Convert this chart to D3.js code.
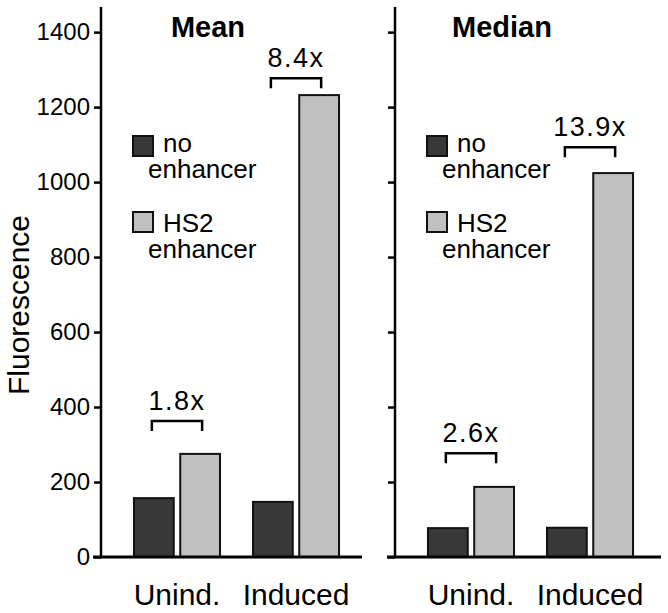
<!DOCTYPE html>
<html>
<head>
<meta charset="utf-8">
<script src="https://cdn.jsdelivr.net/npm/d3@7"></script>
<style>
  html, body { margin: 0; padding: 0; background: #fff; }
  svg { display: block; font-family: "Liberation Sans", Arial, sans-serif; }
</style>
</head>
<body>
<svg id="chart" width="668" height="613"></svg>
<script>
// ---- data ----
const categories = ["Unind.", "Induced"];
const seriesNames = ["no enhancer", "HS2 enhancer"];
const panelTitles = ["Mean", "Median"];
const meanNoEnhancer = [157, 147];
const meanHS2Enhancer = [275, 1232];
const medianNoEnhancer = [77, 78];
const medianHS2Enhancer = [187, 1024];
const meanFoldLabels = ["1.8x", "8.4x"];
const medianFoldLabels = ["2.6x", "13.9x"];
const meanBracketLevels = [363, 1277];
const medianBracketLevels = [277, 1093];
const yTickValues = [0, 200, 400, 600, 800, 1000, 1200, 1400];
const yAxisTitle = "Fluorescence";

// ---- layout ----
const svg = d3.select("#chart");
const colors = d3.scaleOrdinal().domain(seriesNames).range(["#383838", "#c0c0c0"]);
const y = d3.scaleLinear().domain([0, 1467]).range([557, 7]);

const x0 = d3.scaleBand().domain(categories).range([0, 271]).paddingInner(0.277).paddingOuter(0.277);
const x1 = d3.scaleBand().domain(seriesNames).range([0, x0.bandwidth()]).paddingInner(0.14);

const panels = [
  {title: panelTitles[0], left: 101, width: 261, vals: [meanNoEnhancer, meanHS2Enhancer], folds: meanFoldLabels, levels: meanBracketLevels, labels: true},
  {title: panelTitles[1], left: 395, width: 266, vals: [medianNoEnhancer, medianHS2Enhancer], folds: medianFoldLabels, levels: medianBracketLevels, labels: false}
];

panels.forEach(p => {
  const g = svg.append("g").attr("transform", `translate(${p.left},0)`);

  // y axis
  const ax = d3.axisLeft(y).tickValues(yTickValues).tickSize(7).tickPadding(4)
    .tickFormat(p.labels ? d3.format("d") : () => "");
  const ag = g.append("g").call(ax);
  ag.select(".domain").remove();
  ag.selectAll(".tick line").attr("stroke", "#000").attr("stroke-width", 2.5);
  ag.selectAll(".tick text").attr("font-size", 24).attr("fill", "#000")
    .attr("font-family", "'Liberation Sans', Arial, sans-serif");
  g.append("line").attr("x1", 0).attr("x2", 0).attr("y1", y(0)).attr("y2", y.range()[1])
    .attr("stroke", "#000").attr("stroke-width", 2.5);

  // bars
  categories.forEach((c, ci) => {
    seriesNames.forEach((s, si) => {
      const v = p.vals[si][ci];
      g.append("rect")
        .attr("x", x0(c) + x1(s))
        .attr("y", y(v))
        .attr("width", x1.bandwidth())
        .attr("height", y(0) - y(v))
        .attr("fill", colors(s))
        .attr("stroke", "#111")
        .attr("stroke-width", 2);
    });

    // bracket + fold label
    const cx1 = x0(c) + x1(seriesNames[0]) + x1.bandwidth() / 2 - 2;
    const cx2 = x0(c) + x1(seriesNames[1]) + x1.bandwidth() / 2 + 2;
    const by = y(p.levels[ci]);
    g.append("path")
      .attr("d", `M${cx1},${by + 10}V${by}H${cx2}V${by + 10}`)
      .attr("fill", "none").attr("stroke", "#000").attr("stroke-width", 2.5);
    g.append("text")
      .attr("x", (cx1 + cx2) / 2)
      .attr("y", by - 11)
      .attr("text-anchor", "middle")
      .attr("font-size", 27)
      .attr("letter-spacing", "1.5px")
      .text(p.folds[ci]);

    // category label
    g.append("text")
      .attr("x", x0(c) + x0.bandwidth() / 2)
      .attr("y", 605)
      .attr("text-anchor", "middle")
      .attr("font-size", 30)
      .text(c);
  });

  // x axis line
  g.append("line").attr("x1", -8).attr("x2", p.width).attr("y1", y(0)).attr("y2", y(0))
    .attr("stroke", "#000").attr("stroke-width", 3);

  // title
  g.append("text").attr("x", 107).attr("y", 37).attr("text-anchor", "middle")
    .attr("font-size", 29).attr("font-weight", "bold").text(p.title);

  // legend
  const legendRows = [{sq: 136, l1: 152}, {sq: 212, l1: 232}];
  seriesNames.forEach((s, si) => {
    const r = legendRows[si];
    const words = s.split(" ");
    g.append("rect").attr("x", 32).attr("y", r.sq).attr("width", 20).attr("height", 20)
      .attr("fill", colors(s)).attr("stroke", "#111").attr("stroke-width", 2);
    const t = g.append("text").attr("y", r.l1).attr("font-size", 26);
    t.append("tspan").attr("x", 62).text(words[0]);
    t.append("tspan").attr("x", 47).attr("dy", 26).text(words[1]);
  });
});

// y axis title
svg.append("text")
  .attr("transform", "translate(29,305) rotate(-90)")
  .attr("text-anchor", "middle")
  .attr("font-size", 30)
  .text(yAxisTitle);
</script>
</body>
</html>
